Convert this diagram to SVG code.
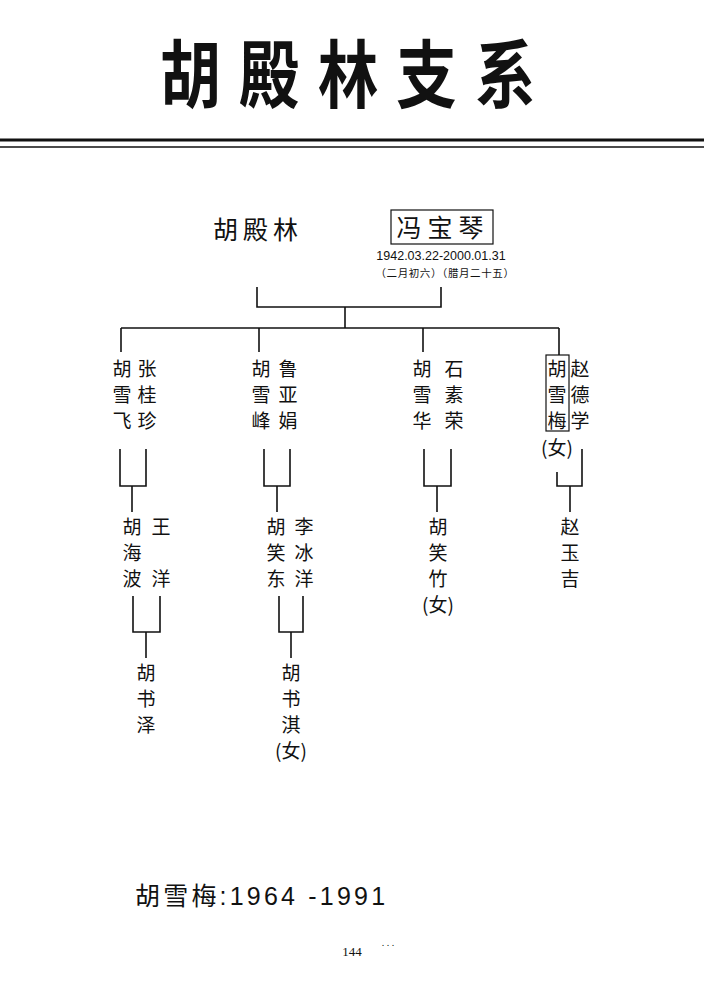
<svg xmlns="http://www.w3.org/2000/svg" width="704" height="999" viewBox="0 0 704 999">
<style>
.t{font-family:"Noto Sans CJK SC","Liberation Sans",sans-serif;font-size:19px;fill:#111;text-anchor:middle}
.c line,.c polyline{stroke:#111;stroke-width:1.6;fill:none}
</style>
<rect width="704" height="999" fill="#fff"/>
<text transform="translate(357,102) scale(0.82,1)" x="0" y="0" font-family="Noto Sans CJK SC,sans-serif" font-weight="bold" font-size="74" letter-spacing="22" text-anchor="middle" fill="#111">胡殿林支系</text>
<line x1="0" y1="140" x2="704" y2="140" stroke="#111" stroke-width="3"/>
<line x1="0" y1="147" x2="704" y2="147" stroke="#111" stroke-width="1.5"/>
<g id="n-hudianlin"><text x="258" y="239" class="t" style="font-size:25px" letter-spacing="5">胡殿林</text></g>
<g id="n-fengbaoqin"><rect x="391" y="210" width="102" height="34" fill="none" stroke="#111" stroke-width="1.2"/>
<text x="443" y="237" class="t" style="font-size:25px" letter-spacing="6">冯宝琴</text>
<text x="441" y="260" class="t" style="font-size:12.5px;font-family:'Liberation Sans',sans-serif">1942.03.22-2000.01.31</text>
<text x="445" y="277" class="t" style="font-size:10.5px" letter-spacing="0.6">（二月初六）（腊月二十五）</text></g>
<g class="c" id="connectors">
<polyline points="257,287 257,307 441,307 441,287"/>
<line x1="345" y1="307" x2="345" y2="328"/>
<line x1="121" y1="328" x2="559" y2="328"/>
<line x1="121" y1="328" x2="121" y2="352"/>
<line x1="259" y1="328" x2="259" y2="352"/>
<line x1="423" y1="328" x2="423" y2="352"/>
<line x1="559" y1="328" x2="559" y2="355"/>
<polyline points="120,449 120,486 146,486 146,449"/><line x1="132" y1="486" x2="132" y2="512"/>
<polyline points="264,449 264,486 290,486 290,449"/><line x1="277" y1="486" x2="277" y2="512"/>
<polyline points="424,449 424,486 451,486 451,449"/><line x1="437" y1="486" x2="437" y2="512"/>
<polyline points="557,472 557,486 582,486 582,449"/><line x1="570" y1="486" x2="570" y2="512"/>
<polyline points="133,596 133,632 160,632 160,596"/><line x1="146" y1="632" x2="146" y2="658"/>
<polyline points="279,596 279,632 303,632 303,596"/><line x1="291" y1="632" x2="291" y2="658"/>
</g>
<g id="n-huxuefei" class="t"><text x="122" y="376">胡</text><text x="122" y="402">雪</text><text x="122" y="428">飞</text><text x="147" y="376">张</text><text x="147" y="402">桂</text><text x="147" y="428">珍</text></g>
<g id="n-huxuefeng" class="t"><text x="261" y="376">胡</text><text x="261" y="402">雪</text><text x="261" y="428">峰</text><text x="288" y="376">鲁</text><text x="288" y="402">亚</text><text x="288" y="428">娟</text></g>
<g id="n-huxuehua" class="t"><text x="422" y="376">胡</text><text x="422" y="402">雪</text><text x="422" y="428">华</text><text x="454" y="376">石</text><text x="454" y="402">素</text><text x="454" y="428">荣</text></g>
<g id="n-huxuemei" class="t"><rect x="546" y="355" width="23" height="76" fill="none" stroke="#111" stroke-width="1.2"/><text x="557" y="376">胡</text><text x="557" y="402">雪</text><text x="557" y="428">梅</text><text x="557" y="455">(女)</text><text x="580" y="376">赵</text><text x="580" y="402">德</text><text x="580" y="428">学</text></g>
<g id="n-huhaibo" class="t"><text x="132" y="534">胡</text><text x="132" y="560">海</text><text x="132" y="586">波</text><text x="161" y="534">王</text><text x="161" y="586">洋</text></g>
<g id="n-huxiaodong" class="t"><text x="276" y="534">胡</text><text x="276" y="560">笑</text><text x="276" y="586">东</text><text x="304" y="534">李</text><text x="304" y="560">冰</text><text x="304" y="586">洋</text></g>
<g id="n-huxiaozhu" class="t"><text x="438" y="534">胡</text><text x="438" y="560">笑</text><text x="438" y="586">竹</text><text x="438" y="612">(女)</text></g>
<g id="n-zhaoyuji" class="t"><text x="570" y="534">赵</text><text x="570" y="560">玉</text><text x="570" y="586">吉</text></g>
<g id="n-hushuze" class="t"><text x="146" y="680">胡</text><text x="146" y="706">书</text><text x="146" y="732">泽</text></g>
<g id="n-hushuqi" class="t"><text x="291" y="680">胡</text><text x="291" y="706">书</text><text x="291" y="732">淇</text><text x="291" y="758">(女)</text></g>
<text x="135" y="905" font-family="Liberation Sans,Noto Sans CJK SC,sans-serif" font-size="25" letter-spacing="3.2" fill="#111">胡雪梅:1964 -1991</text>
<text x="352" y="956" font-family="Liberation Serif,serif" font-size="13" text-anchor="middle" fill="#111">144</text>
<text x="388" y="946" font-family="Liberation Serif,serif" font-size="10" text-anchor="middle" fill="#111">. . .</text>
</svg>
